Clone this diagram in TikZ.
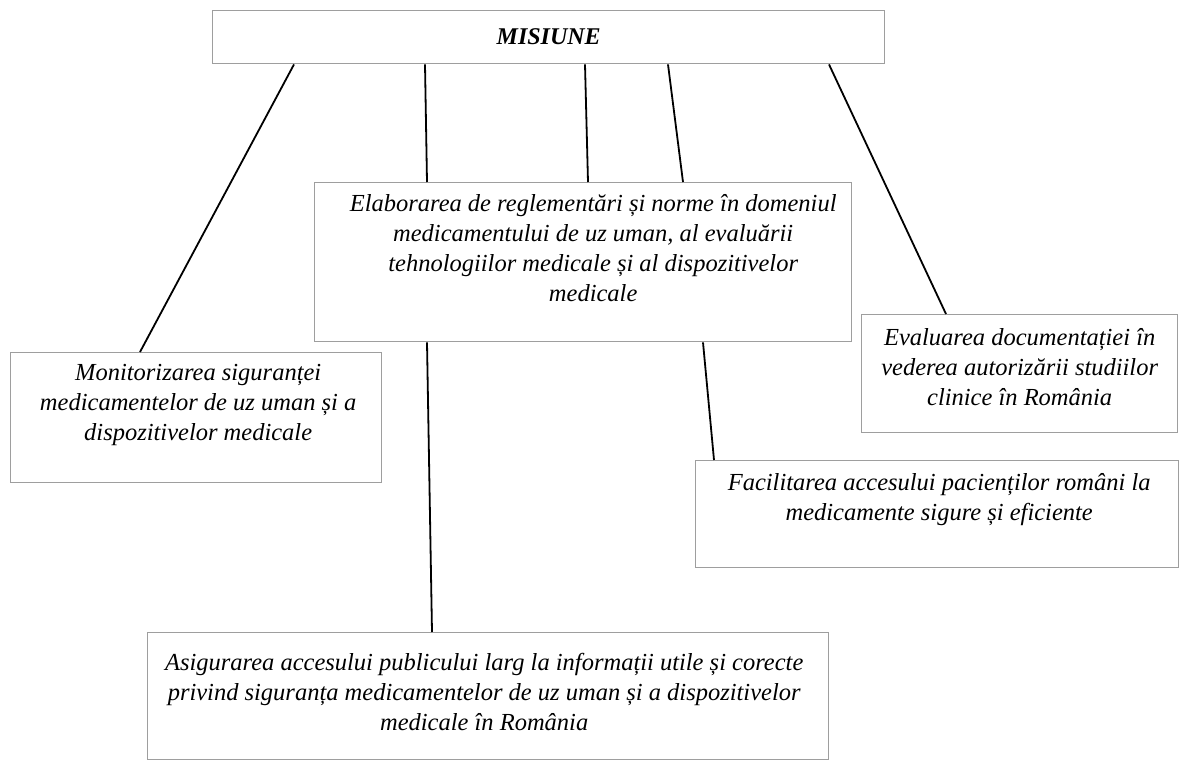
\documentclass[tikz,border=0pt]{standalone}
\usepackage{fontspec}
\setmainfont{Liberation Serif}
\usepackage{tikz}

\begin{document}
\begin{tikzpicture}[x=1pt, y=-1pt,
    box/.style={draw=black!38, line width=1.4, inner sep=0, anchor=north west},
    lbl/.style={anchor=north, inner sep=0, align=center, font=\fontsize{24.5}{30}\selectfont\itshape},
    link/.style={line width=1.8}]
    \useasboundingbox (0, 0) rectangle (1184, 760);

    \node[box, minimum width=672, minimum height=53] (mis) at (212, 10) {};
    \node[box, minimum width=537, minimum height=159] (elab) at (314, 182) {};
    \node[box, minimum width=371, minimum height=130] (mon) at (10, 352) {};
    \node[box, minimum width=316, minimum height=118] (eval) at (861, 314) {};
    \node[box, minimum width=483, minimum height=107] (fac) at (695, 460) {};
    \node[box, minimum width=681, minimum height=127] (asig) at (147, 632) {};

    \node[font=\fontsize{24}{30}\selectfont\bfseries\itshape] (mis-t) at ([yshift=1]mis.center) {MISIUNE};
    \node[lbl] (elab-t) at ([xshift=10, yshift=-12]elab.north) {Elaborarea de reglementări și norme în domeniul\\medicamentului de uz uman, al evaluării\\tehnologiilor medicale și al dispozitivelor\\medicale};
    \node[lbl] (mon-t) at ([xshift=2, yshift=-12]mon.north) {Monitorizarea siguranței\\medicamentelor de uz uman și a\\dispozitivelor medicale};
    \node[lbl] (eval-t) at ([yshift=-14]eval.north) {Evaluarea documentației în\\vederea autorizării studiilor\\clinice în România};
    \node[lbl] (fac-t) at ([xshift=2, yshift=-13]fac.north) {Facilitarea accesului pacienților români la\\medicamente sigure și eficiente};
    \node[lbl] (asig-t) at ([xshift=-4, yshift=-21]asig.north) {Asigurarea accesului publicului larg la informații utile și corecte\\privind siguranța medicamentelor de uz uman și a dispozitivelor\\medicale în România};

    \draw[link] ([xshift=82]mis.south west) -- ([xshift=130]mon.north west);
    \draw[link] ([xshift=213]mis.south west) -- ([xshift=113]elab.north west);
    \draw[link] ([xshift=373]mis.south west) -- ([xshift=274]elab.north west);
    \draw[link] ([xshift=456]mis.south west) -- ([xshift=369]elab.north west);
    \draw[link] ([xshift=617]mis.south west) -- ([xshift=85]eval.north west);
    \draw[link] ([xshift=113]elab.south west) -- ([xshift=285]asig.north west);
    \draw[link] ([xshift=389]elab.south west) -- ([xshift=19]fac.north west);
\end{tikzpicture}
\end{document}
